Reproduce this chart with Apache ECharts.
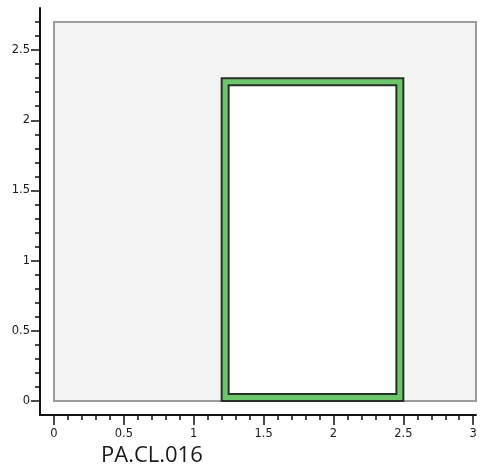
<!DOCTYPE html>
<html>
<head>
<meta charset="utf-8">
<script src="https://cdn.jsdelivr.net/npm/echarts@6/dist/echarts.min.js"></script>
<style>html,body{margin:0;padding:0;background:#fff}#c{width:480px;height:469px}</style>
</head>
<body>
<div id="c"></div>
<script>
// ---- data ----
const chartLabel = 'PA.CL.016';
const xMajorTicks = [0, 0.5, 1, 1.5, 2, 2.5, 3];
const yMajorTicks = [0, 0.5, 1, 1.5, 2, 2.5];
const xRange = [-0.1, 3.02];
const yRange = [-0.1, 2.8];
const plotBox = [0, 0, 3.02, 2.70];      // x0, y0, x1, y1
const wallOuter = [1.2, 0, 2.5, 2.3];
const wallInner = [1.25, 0.05, 2.45, 2.25];

function minorTicks(lo, hi) {
  const out = [];
  for (let i = Math.round(lo * 10); i <= Math.round(hi * 10); i++) {
    if (i % 5 !== 0) out.push(i / 10);
  }
  return out;
}
const xMinorTicks = minorTicks(0, 3.0);
const yMinorTicks = minorTicks(0, 2.7);

const labelFont = { fontFamily: 'DejaVu Sans', fontSize: 11.5, color: '#1a1a1a' };

function rectItem(fill, stroke, lw) {
  return function (params, api) {
    const p0 = api.coord([api.value(0), api.value(1)]);
    const p1 = api.coord([api.value(2), api.value(3)]);
    return {
      type: 'rect',
      shape: { x: p0[0], y: p1[1], width: p1[0] - p0[0], height: p0[1] - p1[1] },
      style: { fill: fill, stroke: stroke, lineWidth: lw }
    };
  };
}

const chart = echarts.init(document.getElementById('c'), null, { renderer: 'canvas' });
chart.setOption({
  animation: false,
  grid: { left: 40, right: 4, top: 8, bottom: 54, containLabel: false },
  xAxis: [
    {
      type: 'value', position: 'bottom', min: xRange[0], max: xRange[1],
      axisLine: { show: true, onZero: false, lineStyle: { color: '#111', width: 2 } },
      axisTick: { show: true, customValues: xMajorTicks, length: 10, lineStyle: { color: '#111', width: 1.5 } },
      axisLabel: { show: true, customValues: xMajorTicks, margin: 13, ...labelFont },
      splitLine: { show: false }
    },
    {
      type: 'value', position: 'bottom', min: xRange[0], max: xRange[1],
      axisLine: { show: false, onZero: false },
      axisTick: { show: true, customValues: xMinorTicks, length: 5, lineStyle: { color: '#111', width: 1.5 } },
      axisLabel: { show: false },
      splitLine: { show: false }
    }
  ],
  yAxis: [
    {
      type: 'value', position: 'left', min: yRange[0], max: yRange[1],
      axisLine: { show: true, onZero: false, lineStyle: { color: '#111', width: 2 } },
      axisTick: { show: true, customValues: yMajorTicks, length: 9, lineStyle: { color: '#111', width: 1.5 } },
      axisLabel: { show: true, customValues: yMajorTicks, margin: 10, ...labelFont },
      splitLine: { show: false }
    },
    {
      type: 'value', position: 'left', min: yRange[0], max: yRange[1],
      axisLine: { show: false, onZero: false },
      axisTick: { show: true, customValues: yMinorTicks, length: 5, lineStyle: { color: '#111', width: 1.5 } },
      axisLabel: { show: false },
      splitLine: { show: false }
    }
  ],
  series: [
    {
      type: 'custom', xAxisIndex: 0, yAxisIndex: 0,
      renderItem: rectItem('#f3f3f3', '#9c9c9c', 2),
      encode: { x: [0, 2], y: [1, 3] },
      data: [plotBox], z: 1
    },
    {
      type: 'custom', xAxisIndex: 0, yAxisIndex: 0,
      renderItem: rectItem('#6cc46c', '#263026', 2),
      encode: { x: [0, 2], y: [1, 3] },
      data: [wallOuter], z: 2
    },
    {
      type: 'custom', xAxisIndex: 0, yAxisIndex: 0,
      renderItem: rectItem('#ffffff', '#263026', 2),
      encode: { x: [0, 2], y: [1, 3] },
      data: [wallInner], z: 3
    }
  ],
  graphic: [
    {
      type: 'text', left: 101, top: 445,
      style: { text: chartLabel, font: '22px "Open Sans"', fill: '#1a1a1a' }
    }
  ]
});
</script>
</body>
</html>
